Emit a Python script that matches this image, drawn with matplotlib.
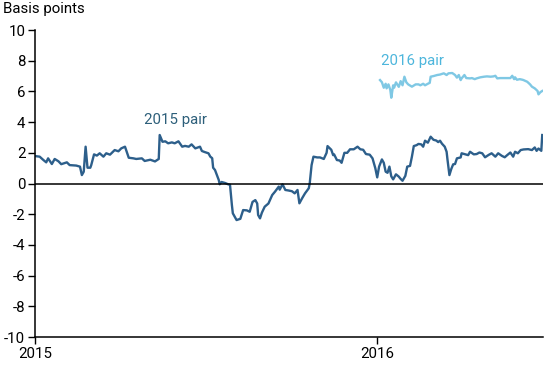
import pandas as pd
import matplotlib
matplotlib.use("Agg")
import matplotlib.pyplot as plt

plt.rcParams["font.family"] = ["Roboto", "DejaVu Sans"]
plt.rcParams["axes.unicode_minus"] = False

# days since 2015-01-01, spread in basis points
pair2015_days = [
    0, 5, 9, 12, 14, 18, 21, 25, 28, 34, 37, 44, 48, 50, 52, 54, 56, 59, 60, 63,
    66, 69, 73, 76, 80, 85, 89, 92, 96, 100, 105, 108, 114, 117, 123, 128, 132, 133, 136, 139,
    142, 146, 149, 153, 157, 160, 164, 167, 171, 176, 178, 181, 185, 187, 189, 190, 192, 196, 197, 199,
    203, 206, 208, 210, 211, 215, 219, 222, 226, 229, 232, 235, 237, 238, 240, 242, 245, 249, 253, 256,
    260, 261, 264, 267, 270, 274, 277, 280, 282, 285, 288, 292, 293, 295, 297, 301, 304, 308, 311, 312,
    316, 318, 319, 322, 325, 327, 330, 333, 336, 340, 344, 347, 350, 353, 357, 360, 363, 365, 367, 370,
    372, 374, 376, 378, 380, 382, 385, 388, 390, 392, 395, 397, 400, 402, 404, 407, 409, 412, 414, 416,
    419, 422, 425, 428, 430, 432, 434, 437, 439, 440, 442, 444, 446, 448, 450, 454, 455, 459, 462, 464,
    468, 471, 474, 477, 480, 484, 487, 491, 494, 498, 501, 504, 507, 510, 512, 515, 518, 521, 526, 530,
    533, 535, 537, 540, 541,
]
pair2015_bp = [
    1.79, 1.75, 1.53, 1.38, 1.64, 1.27, 1.60, 1.45, 1.26, 1.38, 1.20, 1.17, 1.10, 0.55, 0.77, 2.40, 1.03, 1.03, 1.20, 1.90,
    1.82, 1.97, 1.75, 1.97, 1.88, 2.18, 2.10, 2.29, 2.40, 1.68, 1.64, 1.60, 1.64, 1.47, 1.55, 1.44, 1.60, 3.16, 2.72, 2.75,
    2.62, 2.68, 2.62, 2.75, 2.40, 2.45, 2.40, 2.55, 2.29, 2.40, 2.12, 2.05, 1.97, 1.75, 1.65, 1.03, 0.88, 0.23, -0.05, 0.10,
    0.03, -0.05, -0.08, -1.40, -1.94, -2.38, -2.30, -1.73, -1.75, -1.84, -1.20, -1.08, -1.30, -2.05, -2.27, -1.90, -1.51, -1.30, -0.75, -0.53,
    -0.20, -0.40, -0.05, -0.42, -0.45, -0.50, -0.64, -0.42, -1.29, -0.95, -0.64, -0.31, 0.00, 1.20, 1.75, 1.70, 1.70, 1.60, 2.00, 2.44,
    2.20, 1.85, 1.90, 1.53, 1.50, 1.35, 2.00, 2.00, 2.23, 2.23, 2.40, 2.23, 2.20, 1.92, 1.88, 1.64, 0.99, 0.40, 1.10, 1.57,
    1.35, 0.77, 0.70, 1.10, 0.47, 0.27, 0.60, 0.45, 0.30, 0.18, 0.50, 1.10, 1.15, 1.75, 2.44, 2.50, 2.58, 2.55, 2.40, 2.79,
    2.66, 3.05, 2.85, 2.80, 2.70, 2.79, 2.60, 2.40, 2.07, 1.53, 0.55, 0.95, 1.25, 1.27, 1.64, 1.70, 1.97, 1.90, 1.85, 2.07,
    1.90, 1.92, 2.02, 1.97, 1.71, 1.87, 1.97, 1.75, 1.97, 1.80, 1.71, 1.87, 2.02, 1.75, 2.07, 1.97, 2.18, 2.22, 2.24, 2.18,
    2.35, 2.13, 2.28, 2.13, 3.16,
]

pair2016_days = [
    368, 370, 372, 374, 375, 377, 379, 380, 382, 383, 385, 388, 390, 392, 394, 396, 398, 402, 406, 409,
    411, 414, 416, 419, 421, 422, 425, 429, 432, 436, 439, 441, 445, 448, 450, 452, 454, 455, 458, 460,
    464, 466, 469, 471, 475, 479, 482, 486, 489, 491, 493, 496, 500, 503, 507, 509, 511, 512, 514, 517,
    520, 521, 525, 528, 530, 533, 536, 537, 539, 541,
]
pair2016_bp = [
    6.74, 6.60, 6.24, 6.50, 6.20, 6.46, 6.09, 5.59, 6.40, 6.24, 6.59, 6.30, 6.67, 6.40, 6.96, 6.60, 6.46, 6.31, 6.46, 6.46,
    6.40, 6.50, 6.40, 6.50, 6.56, 6.96, 7.00, 7.07, 7.10, 7.18, 7.07, 7.18, 7.20, 7.07, 6.90, 7.07, 6.74, 6.85, 7.07, 6.87,
    6.85, 6.87, 6.80, 6.85, 6.92, 6.96, 6.98, 6.96, 6.98, 7.02, 6.85, 6.87, 6.87, 6.87, 6.87, 7.02, 6.80, 6.92, 6.76, 6.80,
    6.76, 6.74, 6.63, 6.46, 6.31, 6.20, 6.03, 5.81, 5.95, 6.03,
]

year_ticks = ["2015-01-01", "2016-01-01"]
year_labels = ["2015", "2016"]

start = pd.Timestamp("2015-01-01")
d2015 = start + pd.to_timedelta(pair2015_days, unit="D")
d2016 = start + pd.to_timedelta(pair2016_days, unit="D")

fig = plt.figure(figsize=(5.5, 3.65), dpi=100)
ax = fig.add_axes([0.0636, 0.0767, 0.924, 0.841])

ax.plot(d2015, pair2015_bp, color="#2d5f8b", linewidth=1.7)
ax.plot(d2016, pair2016_bp, color="#7fc8e4", linewidth=1.7)
ax.axhline(0, color="black", linewidth=1.1)

ax.set_xlim(start, start + pd.Timedelta(days=542))
ax.set_ylim(-10, 10)
ax.set_yticks(range(-10, 11, 2))
ax.set_xticks(pd.to_datetime(year_ticks))
ax.set_xticklabels(year_labels)

for s in ["top", "right"]:
    ax.spines[s].set_visible(False)
for s in ["left", "bottom"]:
    ax.spines[s].set_linewidth(1.1)

ax.tick_params(axis="y", length=5, width=1, labelsize=10.8, pad=2)
ax.tick_params(axis="x", length=5, width=1, labelsize=10.8, pad=2)

fig.text(0.005, 0.995, "Basis points", ha="left", va="top", fontsize=10.8)
ax.text(pd.Timestamp("2015-05-31"), 3.7, "2015 pair", color="#2d5f7a",
        fontsize=10.8, ha="center", va="bottom")
ax.text(pd.Timestamp("2016-02-08"), 7.5, "2016 pair", color="#4db6dc",
        fontsize=10.8, ha="center", va="bottom")

fig.savefig("out.png", dpi=100)
